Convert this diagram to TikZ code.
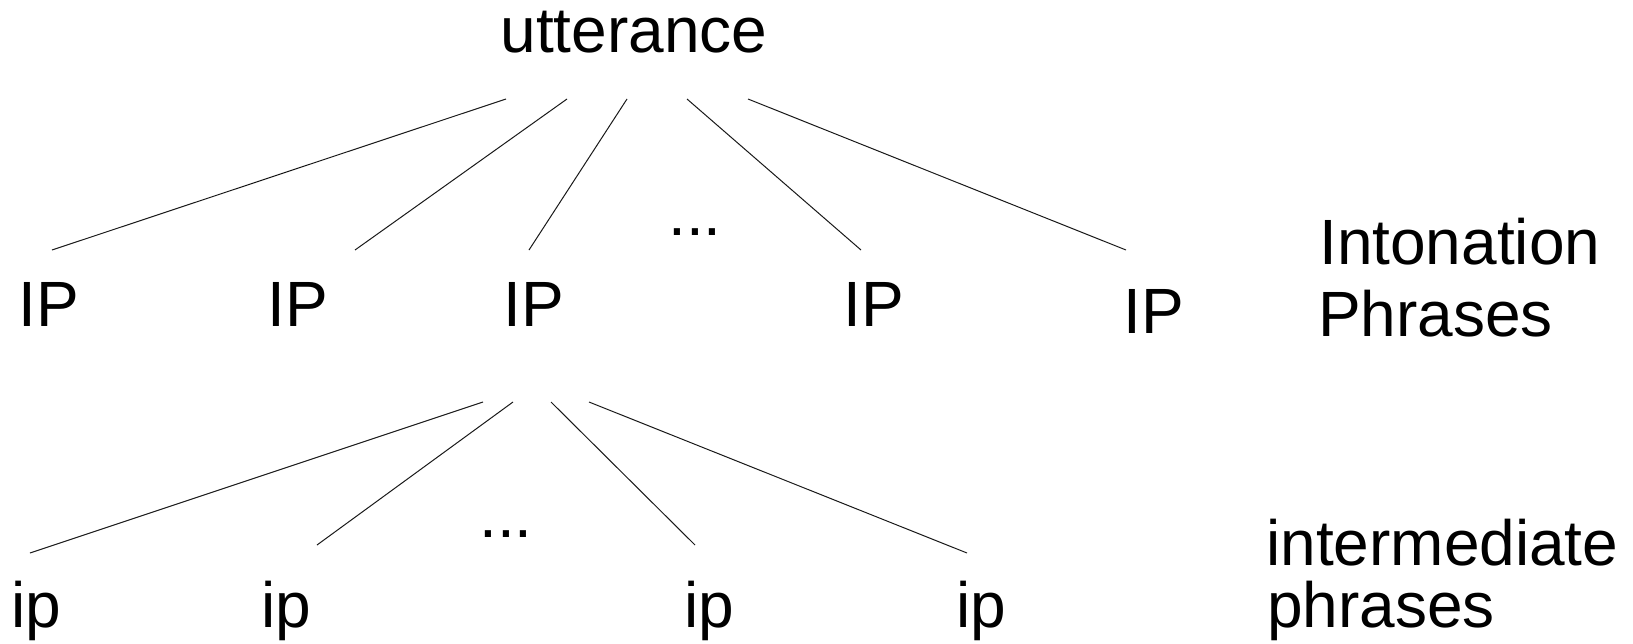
\documentclass[tikz,border=0pt]{standalone}
\usepackage{fontspec}
\setmainfont{Liberation Sans}
\begin{document}
\begin{tikzpicture}[x=1pt,y=-1pt,
  lbl/.style={inner sep=0pt,anchor=base,font=\fontsize{64}{64}\selectfont},
  side/.style={inner sep=0pt,anchor=base west,font=\fontsize{64}{64}\selectfont},
  edge/.style={line width=1pt,draw=black!90}]
\useasboundingbox (0,0) rectangle (1633,643);
% nodes
\node[lbl] (utt) at (634,52) {utterance};
\node[lbl] (IP1) at (49,326) {IP};
\node[lbl] (IP2) at (298,326) {IP};
\node[lbl] (IP3) at (534,326) {IP};
\node[lbl] (IP4) at (874,326) {IP};
\node[lbl] (IP5) at (1154,333) {IP};
\node[lbl] (dotsA) at (695,235) {...};
\node[side] (labIPa) at (1319,264) {Intonation};
\node[side] (labIPb) at (1318,336) {Phrases};
\node[lbl] (ip1) at (36,627) {ip};
\node[lbl] (ip2) at (286,627) {ip};
\node[lbl] (ip3) at (709,627) {ip};
\node[lbl] (ip4) at (981,627) {ip};
\node[lbl] (dotsB) at (506,537) {...};
\node[side] (labipa) at (1266,565) {intermediate};
\node[side] (labipb) at (1267,627) {phrases};
% connector end points
\coordinate (u1) at (506,99);
\coordinate (u2) at (567,99);
\coordinate (u3) at (627,99);
\coordinate (u4) at (687,99);
\coordinate (u5) at (748,99);
\coordinate (t1) at (52,250);
\coordinate (t2) at (355,250);
\coordinate (t3) at (529,250);
\coordinate (t4) at (861,250);
\coordinate (t5) at (1126,250);
\coordinate (d1) at (483,402);
\coordinate (d2) at (513,402);
\coordinate (d3) at (551,402);
\coordinate (d4) at (589,402);
\coordinate (b1) at (30,553);
\coordinate (b2) at (317,545);
\coordinate (b3) at (695,545);
\coordinate (b4) at (967,553);
% connectors
\draw[edge] (u1) -- (t1);
\draw[edge] (u2) -- (t2);
\draw[edge] (u3) -- (t3);
\draw[edge] (u4) -- (t4);
\draw[edge] (u5) -- (t5);
\draw[edge] (d1) -- (b1);
\draw[edge] (d2) -- (b2);
\draw[edge] (d3) -- (b3);
\draw[edge] (d4) -- (b4);
\end{tikzpicture}
\end{document}
